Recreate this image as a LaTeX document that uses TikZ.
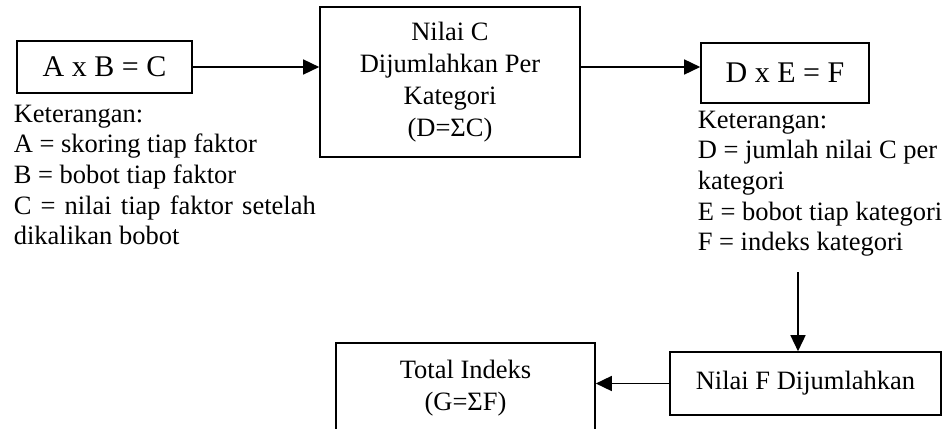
\documentclass[tikz,border=0pt]{standalone}
\usepackage{fontspec}
\setmainfont{Liberation Serif}
\usetikzlibrary{arrows.meta}

\begin{document}
\begin{tikzpicture}[x=1pt, y=-1pt, line width=1.5pt,
	main/.style = {draw, rectangle, align=center, inner sep=0pt, line width=1.6pt, font=\fontsize{26.5}{32}\selectfont},
	big/.style={font=\fontsize{30}{34}\selectfont},
	letter/.style={inner sep=0pt, anchor=north west, font=\fontsize{26.5}{30.7}\selectfont},
	arr/.style={-{Triangle[length=16pt, width=15pt]}}]
	
	\clip (0,0) rectangle (944,428);
	
	\node[main, big, minimum width=175pt, minimum height=52pt] (1) at (104.5,67) {A x B = C};
	\node[main, minimum width=260pt, minimum height=150pt] (2) at (450,82) {Nilai C\\Dijumlahkan Per\\Kategori\\(D=ΣC)};
	\node[main, big, minimum width=168pt, minimum height=60pt] (3) at (785,73) {D x E = F};
	\node[main, minimum width=271pt, minimum height=63pt] (4) at (805.5,383.5) {Nilai F Dijumlahkan};
	\node[main, minimum width=259pt, minimum height=116pt] (5) at (465.5,401) {Total Indeks\\(G=ΣF)\\\mbox{}};
	
	\node[letter, text width=302pt, align=justify] (k1) at (13,104) {Keterangan:\\A = skoring tiap faktor\\B = bobot tiap faktor\\C = nilai tiap faktor setelah dikalikan bobot};
	\node[letter, align=left] (k2) at (697,110) {Keterangan:\\D = jumlah nilai C per\\kategori\\E = bobot tiap kategori\\F = indeks kategori};
	
	\coordinate (t) at (798,272);
	
	\draw[arr] (1.east) to (1.east -| 2.west);
	\draw[arr] (2.east |- 1) to (3.west |- 1);
	\draw[arr] (t) to (t |- 4.north);
	\draw[arr] (4.west) to (4.west -| 5.east);
	
\end{tikzpicture}
\end{document}
